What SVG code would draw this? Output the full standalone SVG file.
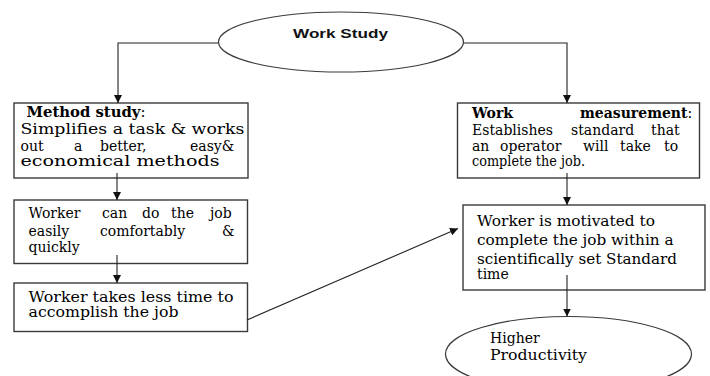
<svg xmlns="http://www.w3.org/2000/svg" width="710" height="376" viewBox="0 0 710 376">
  <style>
    .box { fill: #ffffff; stroke: #3a3a3a; stroke-width: 1.4; }
    .oval { fill: #ffffff; stroke: #3a3a3a; stroke-width: 1.2; }
    .t { font-family: 'DejaVu Serif', 'Liberation Serif', serif; font-size: 14px; fill: #000000; }
    .b { font-weight: bold; }
    .head { font-family: 'Liberation Sans', Arial, sans-serif; font-size: 13px; font-weight: bold; fill: #111111; }
    .link { fill: none; stroke: #222222; stroke-width: 1.1; }
  </style>
  <defs>
    <marker id="arrow" viewBox="0 0 10 10" refX="10" refY="5" markerWidth="8" markerHeight="8" markerUnits="userSpaceOnUse" orient="auto">
      <path d="M0,0 L10,5 L0,10 z" fill="#111111"/>
    </marker>
  </defs>

  <rect width="710" height="376" fill="#ffffff"/>

  <!-- Work Study -->
  <g id="work-study">
    <ellipse class="oval" cx="341" cy="42" rx="122.5" ry="30"/>
    <text class="head" x="293" y="38" textLength="95" lengthAdjust="spacingAndGlyphs">Work Study</text>
  </g>

  <!-- Method study -->
  <g id="method-study">
    <rect class="box" x="14" y="103" width="234" height="75"/>
    <text class="t" x="26.5" y="117" textLength="119" lengthAdjust="spacingAndGlyphs"><tspan class="b">Method study</tspan>:</text>
    <text class="t" x="20.5" y="134" textLength="224" lengthAdjust="spacingAndGlyphs">Simplifies a task &amp; works</text>
    <text class="t" x="20.5" y="151">out</text>
    <text class="t" x="74" y="151">a</text>
    <text class="t" x="100" y="151">better,</text>
    <text class="t" x="190" y="151">easy&amp;</text>
    <text class="t" x="20.5" y="166" textLength="199" lengthAdjust="spacingAndGlyphs">economical methods</text>
  </g>

  <!-- Work measurement -->
  <g id="work-measurement">
    <rect class="box" x="457.5" y="103" width="242" height="75"/>
    <text class="t b" x="472" y="118">Work</text>
    <text class="t" x="580" y="118"><tspan class="b">measurement</tspan>:</text>
    <text class="t" x="472" y="135">Establishes</text>
    <text class="t" x="571" y="135">standard</text>
    <text class="t" x="651" y="135">that</text>
    <text class="t" x="472" y="151">an</text>
    <text class="t" x="500" y="151">operator</text>
    <text class="t" x="583" y="151">will</text>
    <text class="t" x="620" y="151">take</text>
    <text class="t" x="664" y="151">to</text>
    <text class="t" x="472" y="166" textLength="113" lengthAdjust="spacingAndGlyphs">complete the job.</text>
  </g>

  <!-- Worker can do the job -->
  <g id="easy-job">
    <rect class="box" x="14" y="200" width="233.5" height="63.5"/>
    <text class="t" x="28.5" y="218">Worker</text>
    <text class="t" x="102" y="218">can</text>
    <text class="t" x="142" y="218">do</text>
    <text class="t" x="171" y="218">the</text>
    <text class="t" x="210" y="218">job</text>
    <text class="t" x="28.5" y="235.5">easily</text>
    <text class="t" x="100" y="235.5">comfortably</text>
    <text class="t" x="222" y="235.5">&amp;</text>
    <text class="t" x="28.5" y="252">quickly</text>
  </g>

  <!-- Worker takes less time -->
  <g id="less-time">
    <rect class="box" x="14" y="283" width="233.5" height="48.5"/>
    <text class="t" x="28.5" y="301.5" textLength="205" lengthAdjust="spacingAndGlyphs">Worker takes less time to</text>
    <text class="t" x="28.5" y="316.5" textLength="150" lengthAdjust="spacingAndGlyphs">accomplish the job</text>
  </g>

  <!-- Worker is motivated -->
  <g id="motivated">
    <rect class="box" x="463" y="205" width="242" height="85"/>
    <text class="t" x="477" y="226" textLength="178" lengthAdjust="spacingAndGlyphs">Worker is motivated to</text>
    <text class="t" x="477" y="245" textLength="196.5" lengthAdjust="spacingAndGlyphs">complete the job within a</text>
    <text class="t" x="477" y="264" textLength="200" lengthAdjust="spacingAndGlyphs">scientifically set Standard</text>
    <text class="t" x="477" y="279">time</text>
  </g>

  <!-- Higher Productivity -->
  <g id="higher-productivity">
    <ellipse class="oval" cx="568.5" cy="354" rx="123" ry="37.5"/>
    <text class="t" x="490" y="343">Higher</text>
    <text class="t" x="490" y="360" textLength="97" lengthAdjust="spacingAndGlyphs">Productivity</text>
  </g>

  <!-- connectors -->
  <g id="connectors">
    <path class="link" d="M218.5,43 H118 V103" marker-end="url(#arrow)"/>
    <path class="link" d="M463.5,43 H567 V103" marker-end="url(#arrow)"/>
    <path class="link" d="M117,173 V200" marker-end="url(#arrow)"/>
    <path class="link" d="M117,255 V283" marker-end="url(#arrow)"/>
    <path class="link" d="M567,173 V205" marker-end="url(#arrow)"/>
    <path class="link" d="M247,320 L458,228.5" marker-end="url(#arrow)"/>
    <path class="link" d="M567,275 V316.5" marker-end="url(#arrow)"/>
  </g>
</svg>
